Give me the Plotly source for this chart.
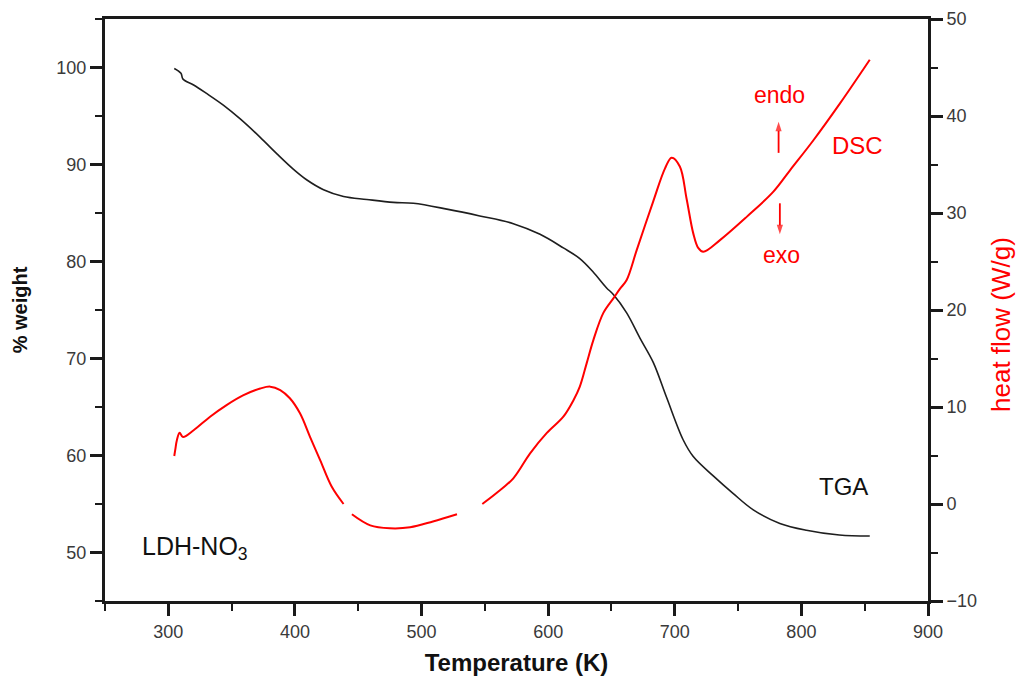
import plotly.graph_objects as go

# TGA (% weight, left axis)
tga_T = [304.7, 310, 311.6, 320, 330.5, 343.7, 356.8, 372.6, 385.8, 398.9, 409.5, 422.6,
         438.4, 456.8, 477.8, 493.6, 520, 546, 572.5, 593.6, 612, 625, 635.7, 646,
         651.5, 662, 672.5, 683, 693.5, 706.7, 714.6, 730.4, 746, 762, 783, 804, 830, 854]
tga_W = [99.9, 99.4, 98.8, 98.2, 97.3, 96.1, 94.7, 92.8, 91.1, 89.5, 88.4, 87.4,
         86.7, 86.4, 86.1, 86.0, 85.4, 84.7, 83.9, 82.8, 81.4, 80.3, 78.9, 77.3,
         76.6, 74.7, 72.1, 69.6, 66.0, 61.6, 59.9, 57.9, 56.1, 54.4, 53.0, 52.3, 51.8, 51.7]

# DSC (heat flow W/g, right axis) - three measured segments with gaps
dsc_T1 = [304.7, 305.5, 306.8, 308.9, 311.6, 320, 333, 346, 359, 372.6, 380.5, 388.4,
          396, 404, 412, 420, 429, 438.4]
dsc_H1 = [4.95, 5.6, 6.6, 7.35, 6.9, 7.6, 9.0, 10.2, 11.2, 11.9, 12.1, 11.75,
          10.9, 9.35, 6.9, 4.5, 1.8, 0.0]
dsc_T2 = [445, 459.5, 475, 491, 509, 528]
dsc_H2 = [-1.06, -2.2, -2.5, -2.4, -1.8, -1.06]
dsc_T3 = [548, 559, 572.5, 585.6, 598.8, 612, 620, 625, 630.4, 635.7, 643.6, 651.5,
          656.8, 662, 670, 683, 692.3, 697.5, 704, 709.3, 714.6, 718.5, 722.5, 735.7,
          756.8, 777.9, 791, 809.5, 830.5, 854]
dsc_H3 = [0.0, 1.1, 2.65, 5.2, 7.3, 9.0, 10.7, 12.1, 14.5, 16.9, 19.7, 21.2,
          22.2, 23.1, 26.2, 31.2, 34.6, 35.7, 34.8, 31.5, 27.9, 26.4, 26.0, 27.2,
          29.6, 32.2, 34.4, 37.5, 41.3, 45.8]

# endo / exo indicator arrows (temperature, heat flow): tail -> head
endo_arrow_T = [782, 782]
endo_arrow_H = [36.2, 39.4]
exo_arrow_T = [783, 783]
exo_arrow_H = [31.0, 27.8]

x_ticks = [300, 400, 500, 600, 700, 800, 900]
left_ticks = [50, 60, 70, 80, 90, 100]
right_ticks = [-10, 0, 10, 20, 30, 40, 50]

dsc_T = dsc_T1 + [None] + dsc_T2 + [None] + dsc_T3
dsc_H = dsc_H1 + [None] + dsc_H2 + [None] + dsc_H3

FONT = "Liberation Sans, Arial, sans-serif"
AX = "#1a1a1a"
red = "#ff0000"
TICKFONT = dict(family=FONT, size=18, color="#3a3a3a")

fig = go.Figure()
fig.add_trace(go.Scatter(x=tga_T, y=tga_W, mode="lines", line=dict(color="#1e1e1e", width=1.6),
                         line_shape="spline", showlegend=False, name="TGA"))
fig.add_trace(go.Scatter(x=dsc_T, y=dsc_H, mode="lines", line=dict(color=red, width=2),
                         line_shape="spline", connectgaps=False, yaxis="y2",
                         showlegend=False, name="DSC"))
for ax_T, ax_H in [(endo_arrow_T, endo_arrow_H), (exo_arrow_T, exo_arrow_H)]:
    fig.add_trace(go.Scatter(x=ax_T, y=ax_H, mode="lines+markers", yaxis="y2",
                             line=dict(color=red, width=1.8),
                             marker=dict(symbol="arrow", size=[0, 10], color=red,
                                         angleref="previous", line=dict(width=0)),
                             showlegend=False, hoverinfo="skip"))

common = dict(showgrid=False, zeroline=False, showline=True, linecolor=AX, linewidth=3,
              ticks="outside", ticklen=12, tickwidth=2.5, tickcolor=AX, tickfont=TICKFONT,
              automargin=False)

fig.update_layout(
    width=1016, height=681,
    margin=dict(l=105, r=88, t=19, b=80),
    paper_bgcolor="white", plot_bgcolor="white",
    xaxis=dict(range=[250, 900], tickvals=x_ticks, mirror=True,
               minor=dict(dtick=50, tick0=250, ticks="outside", ticklen=7, tickwidth=2, tickcolor=AX),
               title=dict(text="<b>Temperature (K)</b>", standoff=14,
                          font=dict(family=FONT, size=24, color="#111111")),
               **common),
    yaxis=dict(range=[45, 105], tickvals=left_ticks,
               minor=dict(dtick=5, tick0=45, ticks="outside", ticklen=7, tickwidth=2, tickcolor=AX),
               title=dict(text="<b>% weight</b>", standoff=24,
                          font=dict(family=FONT, size=20, color="#111111")),
               **common),
    yaxis2=dict(range=[-10, 50], tickvals=right_ticks, overlaying="y", side="right",
                minor=dict(dtick=5, tick0=-10, ticks="outside", ticklen=7, tickwidth=2, tickcolor=AX),
                **common),
)

plot_w = 1016 - 105 - 88
plot_h = 681 - 19 - 80
ann = [
    dict(x=(1001 - 105) / plot_w, y=(681 - 80 - 325) / plot_h, xref="paper", yref="paper",
         xanchor="center", yanchor="middle", text="heat flow (W/g)",
         textangle=-90, showarrow=False, font=dict(family=FONT, size=26, color=red)),
    dict(x=783, y=42.2, xref="x", yref="y2", text="endo", showarrow=False,
         font=dict(family=FONT, size=23, color=red)),
    dict(x=784, y=25.7, xref="x", yref="y2", text="exo", showarrow=False,
         font=dict(family=FONT, size=23, color=red)),
    dict(x=844.7, y=37.0, xref="x", yref="y2", text="DSC", showarrow=False,
         font=dict(family=FONT, size=24, color=red)),
    dict(x=833, y=56.8, xref="x", yref="y", text="TGA", showarrow=False,
         font=dict(family=FONT, size=24, color="#111111")),
    dict(x=277.9, y=50.5, xref="x", yref="y", text="LDH-NO<sub>3</sub>", showarrow=False,
         xanchor="left", font=dict(family=FONT, size=25, color="#111111")),
]
fig.update_layout(annotations=ann)

fig.write_html("out.html")
